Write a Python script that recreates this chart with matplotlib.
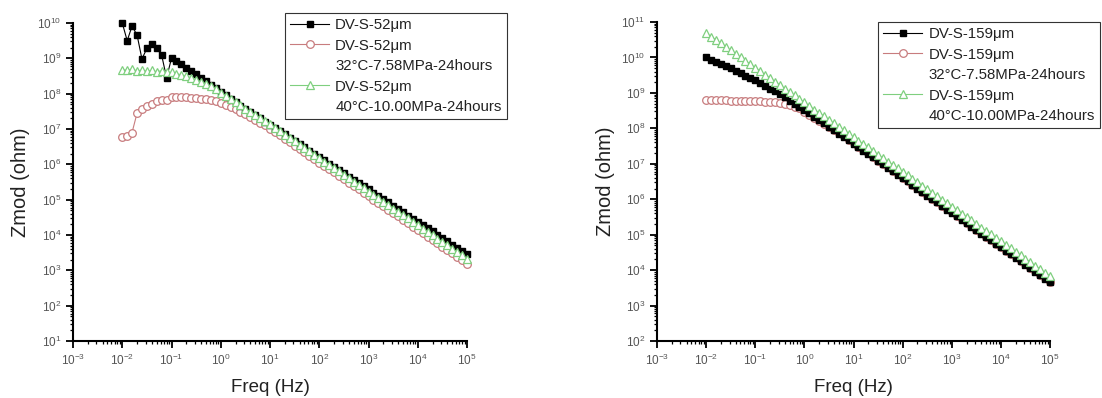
import numpy as np
import matplotlib
matplotlib.use("Agg")
import matplotlib.pyplot as plt
from matplotlib.lines import Line2D
from matplotlib.ticker import LogLocator, NullFormatter

plt.rcParams['font.family'] = ['Liberation Sans', 'DejaVu Sans']
plt.rcParams['mathtext.fontset'] = 'custom'
plt.rcParams['mathtext.rm'] = 'Liberation Sans'
plt.rcParams['mathtext.it'] = 'Liberation Sans:italic'

# frequency sweep (Hz), 10 points per decade, 0.01 .. 1e5
freq = [0.01, 0.0126, 0.0158, 0.02, 0.0251, 0.0316, 0.0398, 0.0501, 0.0631, 0.0794,
        0.1, 0.126, 0.158, 0.2, 0.251, 0.316, 0.398, 0.501, 0.631, 0.794,
        1.0, 1.26, 1.58, 2.0, 2.51, 3.16, 3.98, 5.01, 6.31, 7.94,
        10.0, 12.6, 15.8, 20.0, 25.1, 31.6, 39.8, 50.1, 63.1, 79.4,
        100.0, 126.0, 158.0, 200.0, 251.0, 316.0, 398.0, 501.0, 631.0, 794.0,
        1000.0, 1260.0, 1580.0, 2000.0, 2510.0, 3160.0, 3980.0, 5010.0, 6310.0, 7940.0,
        1e4, 1.26e4, 1.58e4, 2e4, 2.51e4, 3.16e4, 3.98e4, 5.01e4, 6.31e4, 7.94e4,
        1e5]

# log10(Zmod / ohm)
# left panel: DV-S-52um
z52_ref = [10.00, 9.50, 9.91, 9.66, 8.98, 9.28, 9.40, 9.28, 9.09, 8.45,
           9.00, 8.92, 8.83, 8.74, 8.65, 8.55, 8.45, 8.35, 8.25, 8.15,
           8.05, 7.95, 7.85, 7.76, 7.66, 7.57, 7.48, 7.39, 7.30, 7.21,
           7.12, 7.03, 6.94, 6.85, 6.75, 6.66, 6.57, 6.48, 6.39, 6.30,
           6.20, 6.11, 6.02, 5.93, 5.84, 5.75, 5.65, 5.56, 5.47, 5.38,
           5.29, 5.20, 5.10, 5.01, 4.92, 4.83, 4.74, 4.65, 4.55, 4.46,
           4.37, 4.28, 4.19, 4.10, 4.00, 3.91, 3.82, 3.73, 3.64, 3.54,
           3.45]
z52_32c = [6.78, 6.80, 6.90, 7.45, 7.57, 7.66, 7.72, 7.80, 7.82, 7.83,
           7.90, 7.91, 7.90, 7.90, 7.89, 7.88, 7.86, 7.84, 7.82, 7.79,
           7.75, 7.69, 7.63, 7.56, 7.49, 7.42, 7.34, 7.26, 7.18, 7.10,
           7.01, 6.91, 6.82, 6.72, 6.63, 6.53, 6.44, 6.34, 6.24, 6.15,
           6.05, 5.96, 5.86, 5.77, 5.67, 5.58, 5.48, 5.39, 5.29, 5.19,
           5.10, 5.00, 4.91, 4.81, 4.72, 4.62, 4.53, 4.43, 4.34, 4.24,
           4.14, 4.05, 3.95, 3.86, 3.76, 3.67, 3.57, 3.48, 3.38, 3.29,
           3.19]
z52_40c = [8.68, 8.66, 8.70, 8.64, 8.67, 8.63, 8.66, 8.62, 8.65, 8.61,
           8.60, 8.57, 8.53, 8.49, 8.45, 8.40, 8.34, 8.28, 8.21, 8.14,
           8.03, 7.94, 7.85, 7.76, 7.67, 7.58, 7.49, 7.40, 7.31, 7.22,
           7.13, 7.03, 6.94, 6.84, 6.75, 6.65, 6.56, 6.46, 6.37, 6.27,
           6.18, 6.08, 5.99, 5.89, 5.80, 5.70, 5.61, 5.51, 5.42, 5.32,
           5.23, 5.13, 5.04, 4.94, 4.85, 4.75, 4.66, 4.56, 4.47, 4.37,
           4.28, 4.18, 4.09, 3.99, 3.90, 3.80, 3.71, 3.61, 3.52, 3.42,
           3.33]

# right panel: DV-S-159um
z159_ref = [10.00, 9.94, 9.88, 9.82, 9.76, 9.70, 9.63, 9.56, 9.49, 9.42,
            9.35, 9.28, 9.20, 9.12, 9.04, 8.96, 8.87, 8.78, 8.69, 8.60,
            8.51, 8.42, 8.33, 8.23, 8.14, 8.04, 7.95, 7.85, 7.76, 7.66,
            7.57, 7.47, 7.37, 7.28, 7.18, 7.08, 6.98, 6.89, 6.79, 6.69,
            6.59, 6.50, 6.40, 6.30, 6.20, 6.10, 6.01, 5.91, 5.81, 5.71,
            5.62, 5.52, 5.42, 5.32, 5.23, 5.13, 5.03, 4.93, 4.84, 4.74,
            4.64, 4.54, 4.45, 4.35, 4.25, 4.15, 4.05, 3.96, 3.86, 3.76,
            3.66]
z159_32c = [8.80, 8.80, 8.79, 8.79, 8.79, 8.78, 8.78, 8.78, 8.77, 8.77,
            8.76, 8.76, 8.75, 8.74, 8.73, 8.71, 8.68, 8.65, 8.61, 8.56,
            8.47, 8.39, 8.30, 8.21, 8.11, 8.05, 7.96, 7.86, 7.77, 7.67,
            7.58, 7.48, 7.38, 7.29, 7.19, 7.09, 6.99, 6.90, 6.80, 6.70,
            6.60, 6.51, 6.41, 6.31, 6.21, 6.11, 6.02, 5.92, 5.82, 5.72,
            5.63, 5.53, 5.43, 5.33, 5.24, 5.14, 5.04, 4.94, 4.85, 4.75,
            4.65, 4.55, 4.46, 4.36, 4.26, 4.16, 4.06, 3.97, 3.87, 3.77,
            3.67]
z159_40c = [10.69, 10.59, 10.49, 10.40, 10.30, 10.20, 10.10, 10.00, 9.91, 9.81,
            9.71, 9.61, 9.51, 9.42, 9.32, 9.22, 9.12, 9.02, 8.93, 8.83,
            8.73, 8.63, 8.53, 8.44, 8.34, 8.24, 8.14, 8.04, 7.95, 7.85,
            7.75, 7.65, 7.55, 7.46, 7.36, 7.26, 7.16, 7.06, 6.97, 6.87,
            6.77, 6.67, 6.57, 6.48, 6.38, 6.28, 6.18, 6.08, 5.99, 5.89,
            5.79, 5.69, 5.59, 5.50, 5.40, 5.30, 5.20, 5.10, 5.01, 4.91,
            4.81, 4.71, 4.61, 4.52, 4.42, 4.32, 4.22, 4.12, 4.03, 3.93,
            3.83]

names_52 = ['DV-S-52μm', 'DV-S-52μm', 'DV-S-52μm']
names_159 = ['DV-S-159μm', 'DV-S-159μm', 'DV-S-159μm']
conditions = ['32°C-7.58MPa-24hours', '40°C-10.00MPa-24hours']

RED = '#c87c7e'
GREEN = '#7fcf7f'


def draw_panel(ax, series, names, ylim, legend_xy):
    styles = [dict(marker='s', color='black', mfc='black', mec='black', ms=5),
              dict(marker='o', color=RED, mfc='white', mec=RED, ms=5.5, mew=0.9),
              dict(marker='^', color=GREEN, mfc='white', mec=GREEN, ms=6, mew=0.9)]
    zorders = [3, 2, 4]   # red sits underneath, green on top
    lines = []
    for z, st, zo in zip(series, styles, zorders):
        ln, = ax.plot(freq, np.power(10.0, z), lw=0.8, zorder=zo, clip_on=False, **st)
        lines.append(ln)

    ax.set_xscale('log')
    ax.set_yscale('log')
    ax.set_xlim(1e-3, 1e5)
    ax.set_ylim(*ylim)
    ax.xaxis.set_major_locator(LogLocator(base=10, numticks=20))
    ax.yaxis.set_major_locator(LogLocator(base=10, numticks=20))
    ax.xaxis.set_minor_locator(LogLocator(base=10, subs=np.arange(2, 10), numticks=20))
    ax.yaxis.set_minor_locator(LogLocator(base=10, subs=np.arange(2, 10), numticks=20))
    ax.xaxis.set_minor_formatter(NullFormatter())
    ax.yaxis.set_minor_formatter(NullFormatter())

    for s in ['top', 'right']:
        ax.spines[s].set_visible(False)
    for s in ['left', 'bottom']:
        ax.spines[s].set_linewidth(1.5)
    ax.tick_params(which='major', direction='out', length=5, width=1.3,
                   labelsize=8.5, labelcolor='#555555')
    ax.tick_params(which='minor', direction='out', length=2.5, width=0.9)

    ax.set_xlabel('Freq (Hz)', fontsize=13.5, color='#222222', labelpad=8)
    ax.set_ylabel('Zmod (ohm)', fontsize=14.5, color='#222222')
    ax.yaxis.set_label_coords(-0.108, 0.5)

    # second text line of each condition entry gets an empty handle
    blank = Line2D([], [], linestyle='none', marker='none')
    handles = [lines[0], lines[1], blank, lines[2], blank]
    texts = [names[0], names[1], conditions[0], names[2], conditions[1]]
    leg = ax.legend(handles, texts, loc='upper left', bbox_to_anchor=legend_xy,
                    bbox_transform=ax.figure.transFigure, borderaxespad=0,
                    fontsize=10.8, frameon=True, fancybox=False, framealpha=1,
                    edgecolor='#333333', handlelength=2.6, handletextpad=0.4,
                    labelspacing=0.43, borderpad=0.35)
    leg.get_frame().set_linewidth(0.8)
    leg.set_zorder(10)
    for t in leg.get_texts():
        t.set_color('#222222')


fig = plt.figure(figsize=(11.02, 3.98), dpi=100)
ax1 = fig.add_axes([73 / 1102, 1 - 341 / 398, 394 / 1102, 318 / 398])
ax2 = fig.add_axes([657 / 1102, 1 - 341 / 398, 393 / 1102, 319 / 398])

draw_panel(ax1, [z52_ref, z52_32c, z52_40c], names_52, (1e1, 1e10),
           (285 / 1102, 1 - 13 / 398))
draw_panel(ax2, [z159_ref, z159_32c, z159_40c], names_159, (1e2, 1e11),
           (878 / 1102, 1 - 22 / 398))

fig.savefig('out.png', dpi=100)
